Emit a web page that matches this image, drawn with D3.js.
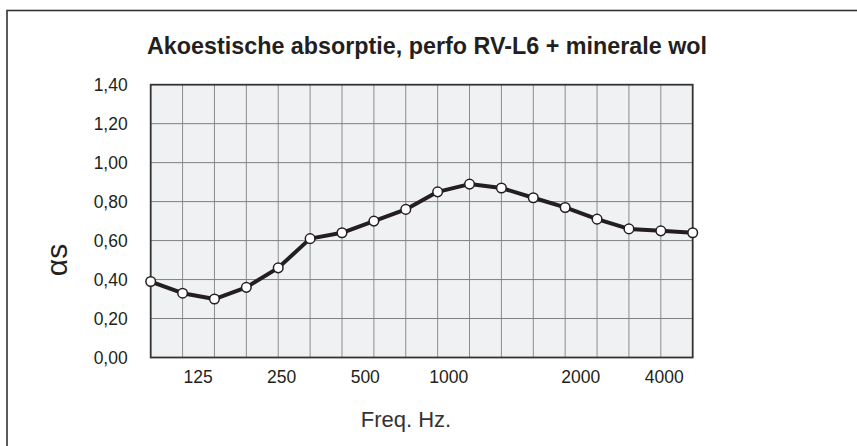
<!DOCTYPE html>
<html>
<head>
<meta charset="utf-8">
<script src="https://cdn.jsdelivr.net/npm/d3@7"></script>
<style>
  body { margin: 0; background: #fff; }
  text { font-family: "Liberation Sans", Arial, sans-serif; fill: #231f20; }
</style>
</head>
<body>
<div id="chart"></div>
<script>
// 1/3-octave band frequencies (Hz) and absorption coefficient
const freqs = [100, 125, 160, 200, 250, 315, 400, 500, 630, 800, 1000, 1250, 1600, 2000, 2500, 3150, 4000, 5000];
const alphaS = [0.39, 0.33, 0.30, 0.36, 0.46, 0.61, 0.64, 0.70, 0.76, 0.85, 0.89, 0.87, 0.82, 0.77, 0.71, 0.66, 0.65, 0.64];

// x tick labels and where they sit on the band index axis
const xTickLabels = ["125", "250", "500", "1000", "2000", "4000"];
const xTickAt = [1.49, 4.11, 6.73, 9.35, 13.49, 16.11];

const yTicks = [0, 0.2, 0.4, 0.6, 0.8, 1.0, 1.2, 1.4];

const W = 857, H = 446;
const margin = { top: 84.7, right: 164.3, bottom: 88.5, left: 150.7 };
const width = W - margin.left - margin.right;
const height = H - margin.top - margin.bottom;

const svg = d3.select("#chart")
  .append("svg")
  .attr("width", W)
  .attr("height", H);

// outer frame (runs off the right and bottom edge)
svg.append("rect")
  .attr("x", 7).attr("y", 10.5)
  .attr("width", 1000).attr("height", 1000)
  .attr("fill", "none")
  .attr("stroke", "#333")
  .attr("stroke-width", 1.6);

svg.append("text")
  .attr("x", 147)
  .attr("y", 54)
  .attr("font-size", 24)
  .attr("font-weight", "bold")
  .attr("textLength", 560)
  .attr("lengthAdjust", "spacingAndGlyphs")
  .text("Akoestische absorptie, perfo RV-L6 + minerale wol");

const g = svg.append("g")
  .attr("transform", `translate(${margin.left},${margin.top})`);

const x = d3.scaleLinear().domain([0, freqs.length - 1]).range([0, width]);
const y = d3.scaleLinear().domain([0, 1.4]).range([height, 0]);

g.append("rect")
  .attr("width", width)
  .attr("height", height)
  .attr("fill", "#f0f1f3");

// grid
g.selectAll(".vgrid")
  .data(d3.range(1, freqs.length - 1))
  .join("line")
  .attr("class", "vgrid")
  .attr("x1", d => x(d)).attr("x2", d => x(d))
  .attr("y1", 0).attr("y2", height)
  .attr("stroke", "#8c8c8c")
  .attr("stroke-width", 1);

g.selectAll(".hgrid")
  .data(yTicks.slice(1, -1))
  .join("line")
  .attr("class", "hgrid")
  .attr("x1", 0).attr("x2", width)
  .attr("y1", d => y(d)).attr("y2", d => y(d))
  .attr("stroke", "#808080")
  .attr("stroke-width", 1);

g.append("rect")
  .attr("width", width)
  .attr("height", height)
  .attr("fill", "none")
  .attr("stroke", "#333")
  .attr("stroke-width", 1.8);

// y tick labels
const fmt = d => d.toFixed(2).replace(".", ",");
g.selectAll(".ylab")
  .data(yTicks)
  .join("text")
  .attr("class", "ylab")
  .attr("x", -23)
  .attr("y", d => y(d))
  .attr("dy", "0.36em")
  .attr("text-anchor", "end")
  .attr("font-size", 17.5)
  .text(fmt);

// x tick labels
g.selectAll(".xlab")
  .data(xTickLabels)
  .join("text")
  .attr("class", "xlab")
  .attr("x", (d, i) => x(xTickAt[i]))
  .attr("y", height + 26)
  .attr("text-anchor", "middle")
  .attr("font-size", 17.5)
  .text(d => d);

svg.append("text")
  .attr("x", 406)
  .attr("y", 427)
  .attr("text-anchor", "middle")
  .attr("font-size", 22)
  .style("fill", "#333")
  .text("Freq. Hz.");

svg.append("text")
  .attr("transform", "translate(67,260) rotate(-90)")
  .attr("text-anchor", "middle")
  .attr("font-size", 30)
  .text("αs");

// curve
const line = d3.line()
  .x((d, i) => x(i))
  .y(d => y(d));

g.append("path")
  .datum(alphaS)
  .attr("fill", "none")
  .attr("stroke", "#231f20")
  .attr("stroke-width", 4)
  .attr("stroke-linejoin", "round")
  .attr("d", line);

g.selectAll(".pt")
  .data(alphaS)
  .join("circle")
  .attr("class", "pt")
  .attr("cx", (d, i) => x(i))
  .attr("cy", d => y(d))
  .attr("r", 4.8)
  .attr("fill", "#fff")
  .attr("stroke", "#231f20")
  .attr("stroke-width", 1.5);
</script>
</body>
</html>
